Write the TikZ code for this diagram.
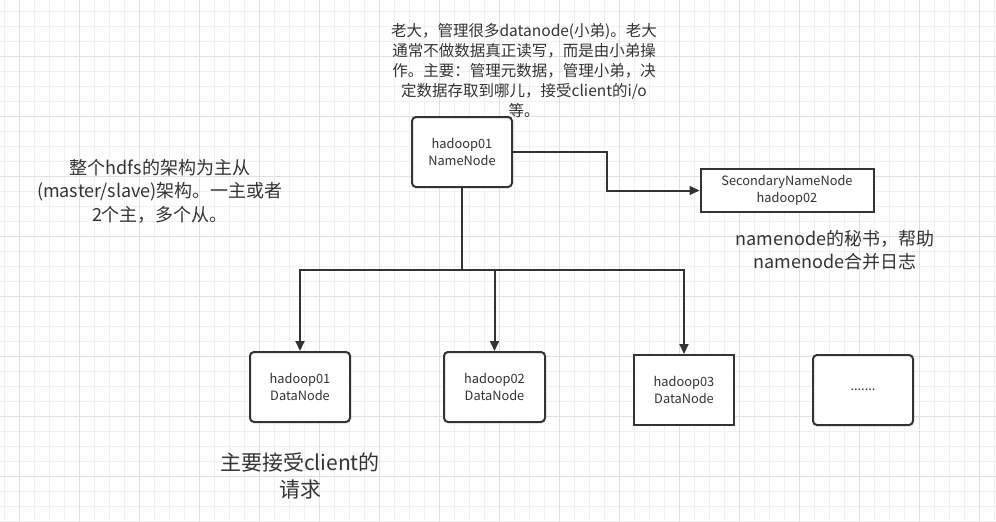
\documentclass[tikz,border=0pt]{standalone}
\usepackage{fontspec}
\setmainfont{Noto Sans CJK SC}
\usetikzlibrary{arrows.meta}
\definecolor{ink}{HTML}{333333}
\definecolor{gridminor}{HTML}{F0F0F0}
\definecolor{gridmajor}{HTML}{E0E0E0}
\tikzset{
  box/.style={draw=ink, line width=2pt, fill=white, text=ink, align=center,
    minimum width=100pt, minimum height=70pt, inner sep=0pt,
    font=\fontsize{12.8}{16.5}\selectfont},
  rbox/.style={box, rounded corners=4pt},
  conn/.style={draw=ink, line width=2pt},
  arr/.style={conn, -{Triangle[length=10pt,width=9pt]}},
  note/.style={text=ink, align=center, inner sep=0pt},
}
\begin{document}
\begin{tikzpicture}[x=1pt,y=-1pt]
\useasboundingbox (0,0) rectangle (996,522);
\fill[white] (0,0) rectangle (996,522);
% grid
\foreach \k in {0,...,66} { \draw[gridminor, line width=1pt] ({4.3+15*\k},0) -- ({4.3+15*\k},522); }
\foreach \k in {0,...,34} { \draw[gridminor, line width=1pt] (0,{11.7+15*\k}) -- (996,{11.7+15*\k}); }
\foreach \k in {0,...,16} { \draw[gridmajor, line width=1pt] ({19.3+60*\k},0) -- ({19.3+60*\k},522); }
\foreach \k in {0,...,9} { \draw[gridmajor, line width=1pt] (0,{-3.3+60*\k}) -- (996,{-3.3+60*\k}); }

% nodes
\node[rbox] (nn) at (462,152) {hadoop01\\NameNode};
\node[box, minimum width=173pt, minimum height=43pt] (snn) at (787,190.5) {SecondaryNameNode\\hadoop02};
\node[rbox] (d1) at (300,387) {hadoop01\\DataNode};
\node[rbox, minimum width=101pt] (d2) at (494.5,387) {hadoop02\\DataNode};
\node[box] (d3) at (684,390) {hadoop03\\DataNode};
\node[rbox] (d4) at (863,390) {.......};

% notes
\node[note, font=\fontsize{15.5}{20}\selectfont] (t1) at (524,71) {老大，管理很多datanode(小弟)。老大\\通常不做数据真正读写，而是由小弟操\\作。主要：管理元数据，管理小弟，决\\定数据存取到哪儿，接受client的i/o\\等。};
\node[note, font=\fontsize{18}{23.5}\selectfont] (t2) at (160,191) {整个hdfs的架构为主从\\(master/slave)架构。一主或者\\2个主，多个从。};
\node[note, font=\fontsize{18}{23}\selectfont] (t3) at (835,250) {namenode的秘书，帮助\\namenode合并日志};
\node[note, font=\fontsize{21}{27}\selectfont] (t4) at (300,476) {主要接受client的\\请求};

% connectors
\coordinate (c1) at (607,152);
\coordinate (j) at (462,270);
\draw[arr] (nn.east) -- (c1) |- (snn.west);
\draw[conn] (nn.south) -- (j);
\draw[arr] (j) -| (d1.north);
\draw[arr] (j) -| (d2.north);
\draw[arr] (j) -| (d3.north);
\end{tikzpicture}
\end{document}
